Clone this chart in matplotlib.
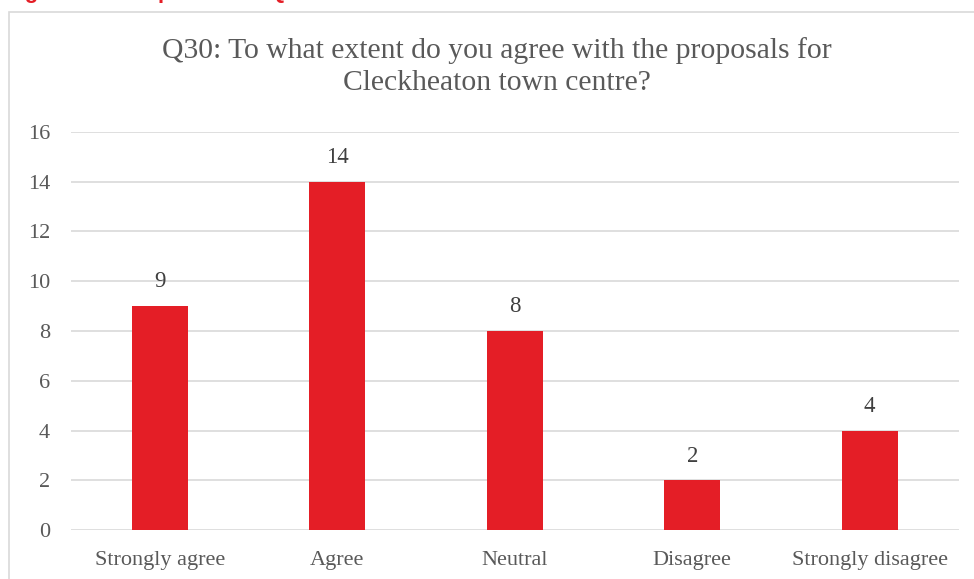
import matplotlib.pyplot as plt
from matplotlib.patches import Rectangle

categories = ['Strongly agree', 'Agree', 'Neutral', 'Disagree', 'Strongly disagree']
counts = [9, 14, 8, 2, 4]
yticks = [0, 2, 4, 6, 8, 10, 12, 14, 16]

RED = '#e41e26'
GREY_TEXT = '#595959'
LABEL_TEXT = '#404040'
GRID = '#d9d9d9'

plt.rcParams['font.family'] = ['Liberation Serif', 'DejaVu Serif']

fig = plt.figure(figsize=(9.74, 5.79), dpi=100)
W, H = 974, 579

# caption above the chart, mostly cut off by the page edge
fig.text(5 / W, 1 + 2 / H, 'Figure 32: Responses to Q30', color=RED,
         fontsize=16, fontweight='bold', family=['Liberation Sans'],
         ha='left', va='baseline')

# chart frame
fig.patches.append(Rectangle((9 / W, -0.05), 1.0, 1 - 12 / H + 0.05,
                             transform=fig.transFigure, fill=False,
                             edgecolor=GRID, linewidth=1.2))

ax = fig.add_axes([71 / W, (H - 530) / H, (958.5 - 71) / W, (530 - 132) / H])
x = range(len(categories))
bars = ax.bar(x, counts, width=0.315, color=RED, zorder=3)
for b, v in zip(bars, counts):
    ax.text(b.get_x() + b.get_width() / 2, v + 0.55, str(v), ha='center',
            va='bottom', fontsize=16.5, color=LABEL_TEXT)

ax.set_xlim(-0.5, len(categories) - 0.5)
ax.set_ylim(0, 16)
ax.set_yticks(yticks)
ax.set_xticks(list(x))
ax.set_xticklabels(categories)
ax.yaxis.grid(True, color=GRID, linewidth=1.2, zorder=0)
ax.tick_params(axis='both', length=0, labelsize=16, labelcolor=GREY_TEXT)
ax.tick_params(axis='y', pad=15)
ax.tick_params(axis='x', pad=15)
for s in ax.spines.values():
    s.set_visible(False)

fig.text(497 / W, 1 - 67 / H,
         'Q30: To what extent do you agree with the proposals for\nCleckheaton town centre?',
         ha='center', va='center', fontsize=21.3, color=GREY_TEXT, linespacing=1.3)

fig.savefig('out.png', dpi=100)
